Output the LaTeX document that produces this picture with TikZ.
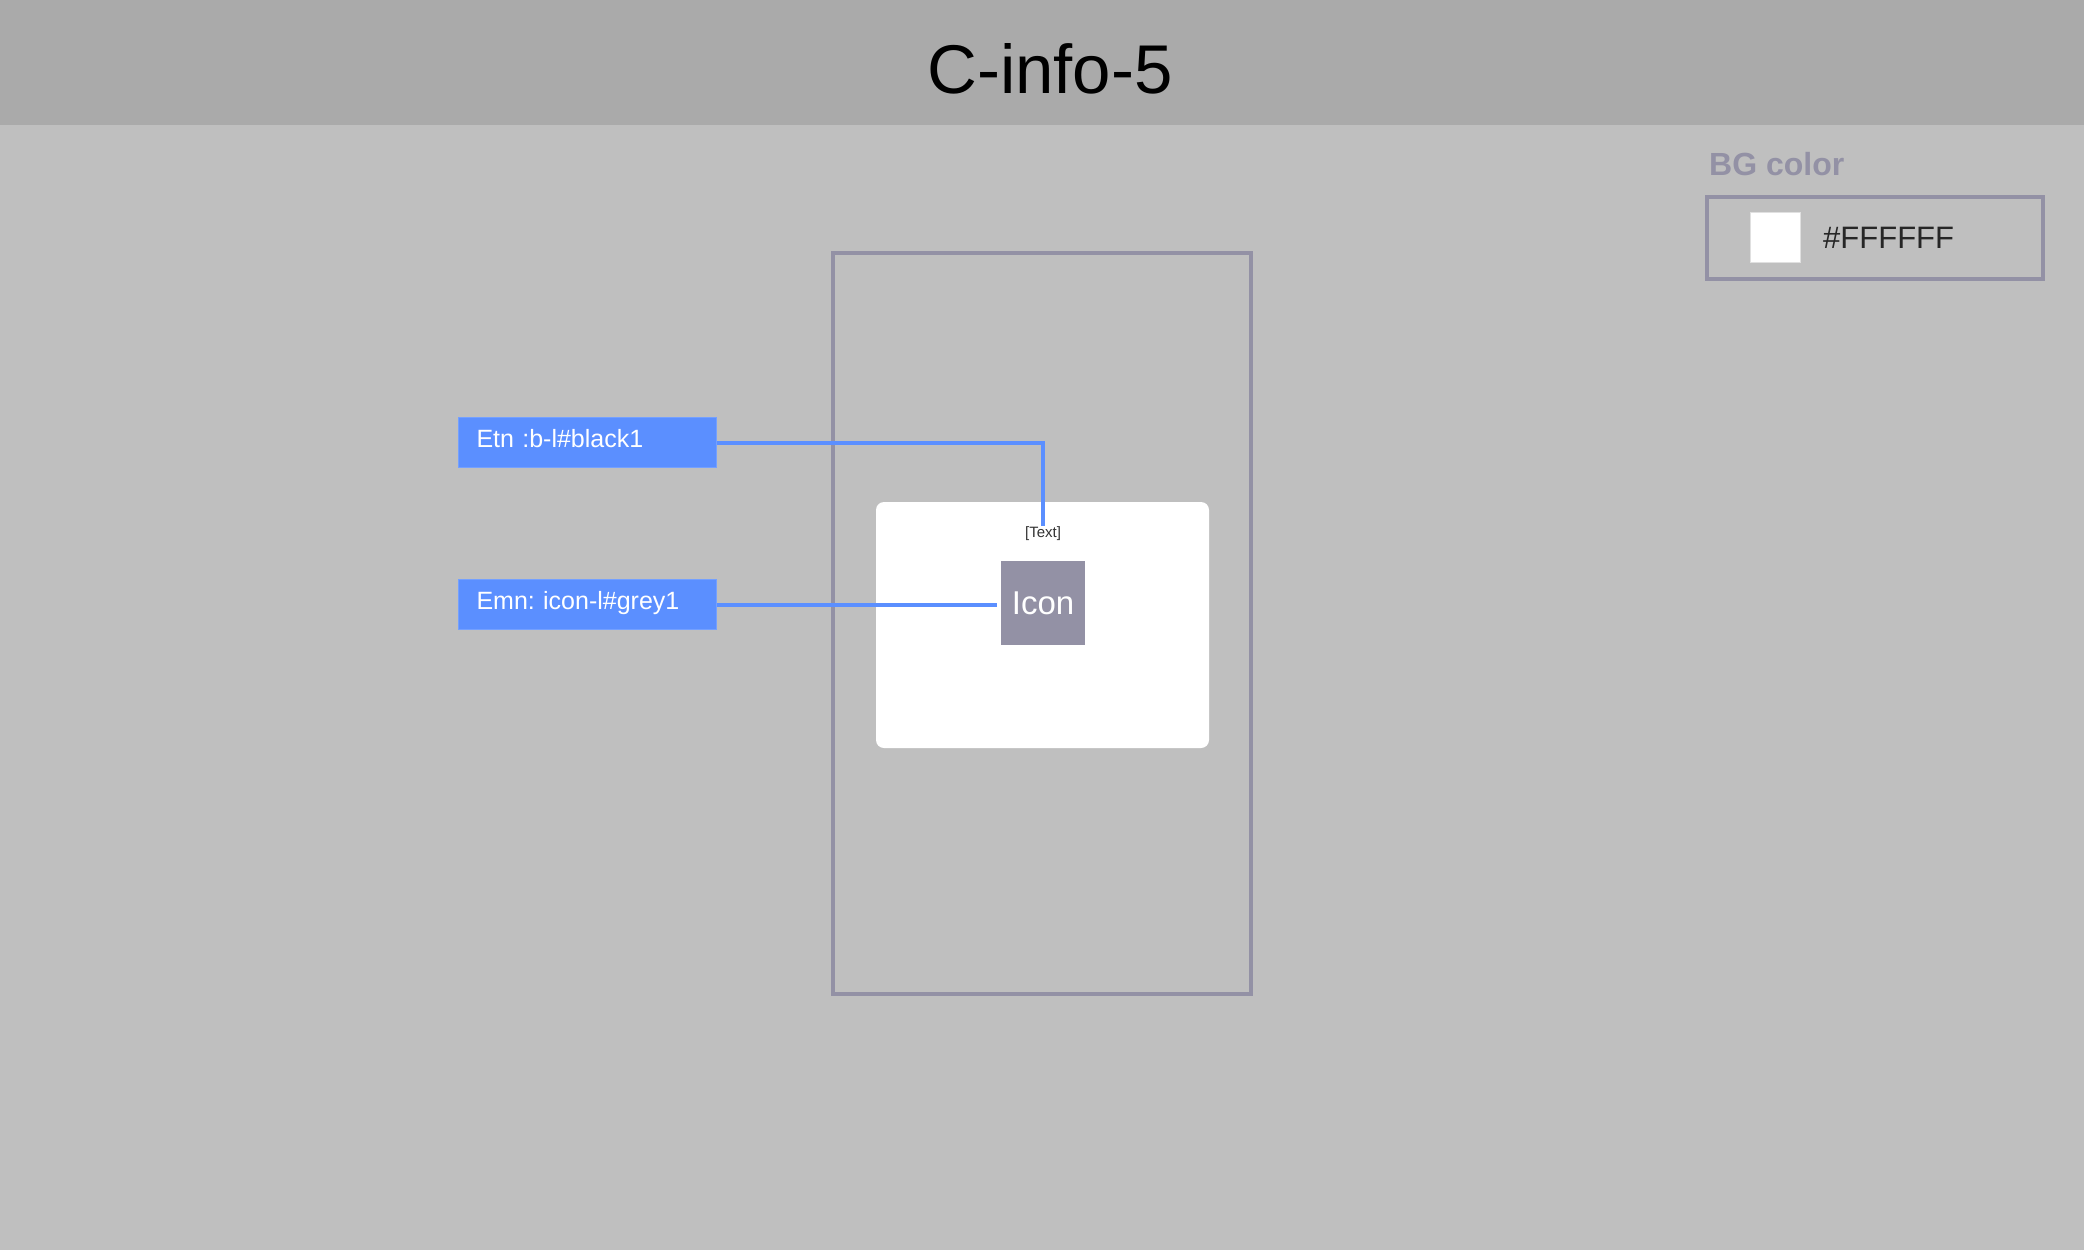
\documentclass[tikz,border=0pt]{standalone}
\usepackage{fontspec}
\setmainfont{Liberation Sans}
\usepackage{xcolor}
\usepackage{tikz}
\usetikzlibrary{positioning,calc}
\frenchspacing
\definecolor{pagebg}{HTML}{BFBFBF}
\definecolor{headbg}{HTML}{AAAAAA}
\definecolor{frameclr}{HTML}{9391A5}
\definecolor{tagblue}{HTML}{5B8FFF}
\tikzstyle{tag} = [rectangle, anchor=north west, fill=tagblue, draw=tagblue!85!white, line width=1pt, text width=222pt, text height=18pt, text depth=8pt, inner xsep=18pt, inner ysep=0pt, minimum height=50pt, align=left, text=white, font=\fontsize{25}{30}\selectfont]
\tikzstyle{link} = [tagblue, line width=4pt]
\tikzstyle{frame} = [frameclr, line width=4pt]

\begin{document}
\begin{tikzpicture}[x=1pt,y=-1pt]
        \fill[pagebg] (0,0) rectangle (2084,1250);
        \fill[headbg] (0,0) rectangle (2084,125);
        \node (title) at (1050,93)[anchor=base, inner sep=0]{\fontsize{69}{83}\selectfont C-info-5};
        % phone frame and card
        \draw[frame] (833,253) rectangle (1251,994);
        \fill[white, rounded corners=8pt] (876,502) rectangle (1209,748);
        \node (txt) at (1043,534)[inner sep=1pt, text=black!80]{\fontsize{15}{18}\selectfont [Text]};
        \node (icon) at (1043,603)[fill=frameclr, minimum size=84pt, inner sep=0, text=white]{\fontsize{33}{40}\selectfont Icon};
        \node[tag] (etn) at (458,417) {Etn :b-l\#black1};
        \node[tag] (emn) at (458,579) {Emn: icon-l\#grey1};
        \draw[link] (etn.east) -| (txt.north);
        \draw[link, shorten >=4pt] (emn.east) -- (emn.east -| icon.west);
        % BG color legend
        \node (bgtitle) at (1709,175)[anchor=base west, inner sep=0, text=frameclr]{\bfseries\fontsize{32}{38}\selectfont BG color};
        \draw[frame] (1707,197) rectangle (2043,279);
        \node (swatch) at (1775.5,237.5)[fill=white, draw=black!12, line width=1pt, minimum size=50pt, inner sep=0]{};
        \node (bghex) at (1823,248)[anchor=base west, inner sep=0, text=black!85]{\fontsize{31}{37}\selectfont \#FFFFFF};
    \end{tikzpicture}
\end{document}
